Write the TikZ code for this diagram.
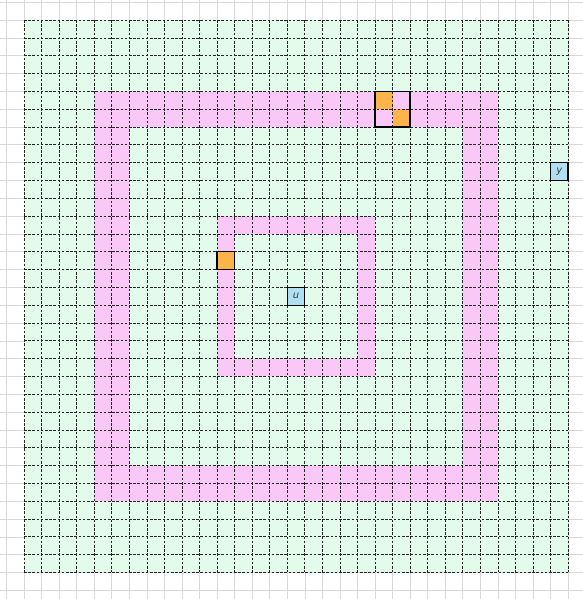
\documentclass[tikz,border=0pt]{standalone}
\usepackage{fontspec}
\setsansfont{DejaVu Sans}
\definecolor{bggrid}{HTML}{D8D8D8}
\definecolor{mint}{HTML}{E2FBEA}
\definecolor{pinkband}{HTML}{F9C8F6}
\definecolor{orangecell}{HTML}{FDB44B}
\definecolor{bluecell}{HTML}{B0DEF2}
\tikzset{
  cellbox/.style={draw=black, line width=1.2pt, minimum width=17.55pt, minimum height=17.82pt, inner sep=0pt, outer sep=0pt, anchor=north west},
  orangebox/.style={cellbox, fill=orangecell},
  bluebox/.style={cellbox, fill=bluecell},
  celltext/.style={font=\sffamily\itshape\fontsize{10}{10}\selectfont, text=black!75},
  dashgrid/.style={black!85, line width=0.6pt, dash pattern=on 2.6pt off 1.6pt},
}
\begin{document}
\begin{tikzpicture}[x=17.55pt, y=-17.82pt]
\useasboundingbox (-1.3675,-1.1223) rectangle (31.852,32.492);
\fill[white] (-1.3675,-1.1223) rectangle (31.852,32.492);
% background grey grid
\begin{scope}
\clip (-1.3675,-1.1223) rectangle (31.852,32.492);
\foreach \k in {-2,...,33} {
  \draw[bggrid, line width=0.5pt] (\k,-2) -- (\k,34);
}
\foreach \k in {-2,...,34} {
  \draw[bggrid, line width=0.5pt] (-2,\k) -- (33,\k);
}
\end{scope}
% green field
\fill[mint] (0,0) rectangle (31,31);
% outer pink frame
\fill[pinkband, even odd rule] (4,4) rectangle (27,27) (6,6) rectangle (25,25);
% inner pink frame
\fill[pinkband, even odd rule] (11,11) rectangle (20,20) (12,12) rectangle (19,19);
% orange cells inside 2x2 block
\fill[orangecell] (20,4) rectangle (21,5);
\fill[orangecell] (21,5) rectangle (22,6);
% dashed grid
\foreach \k in {0,...,31} {
  \draw[dashgrid] (\k,0) -- (\k,31);
  \draw[dashgrid] (0,\k) -- (31,\k);
}
% marked cells
\node[orangebox] (o1) at (11,13) {};
\node[cellbox, minimum width=35.1pt, minimum height=35.64pt] (blk) at (20,4) {};
\node[bluebox] (u) at (15,15) {};
\node[celltext] (ut) at (u.center) {u};
\node[bluebox] (y) at (30,8) {};
\node[celltext] (yt) at (y.center) {y};
\end{tikzpicture}
\end{document}
